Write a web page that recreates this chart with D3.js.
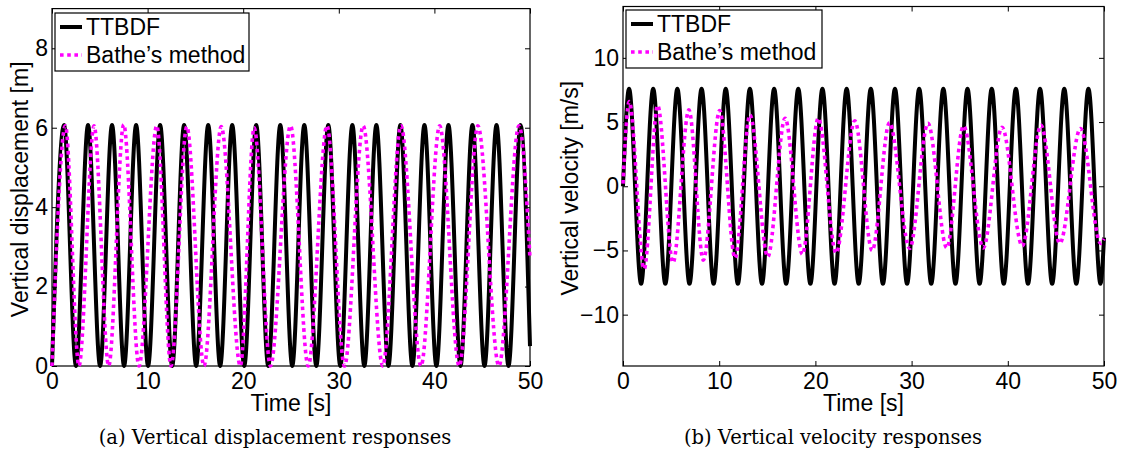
<!DOCTYPE html>
<meta charset="utf-8">
<style>
  body { margin: 0; background: #fff; }
  svg text { font-family: "Liberation Sans", Arial, Helvetica, sans-serif; }
  .caption { font-family: "DejaVu Serif", "Liberation Serif", serif; }
</style>
<body>
<div id="graph"></div>
<script src="https://cdn.jsdelivr.net/npm/d3@7"></script>
<script>
// series names
var seriesNames = ["TTBDF", "Bathe\u2019s method"];

// tick labels
var timeTicks = [0, 10, 20, 30, 40, 50];
var dispTicks = [0, 2, 4, 6, 8];
var velTicks = [-10, -5, 0, 5, 10];

// displacement, TTBDF (time of each turning point, value there)
var dispTtbdfT = [0, 1.26, 2.51, 3.77, 5.03, 6.28, 7.54, 8.80, 10.05, 11.31, 12.57, 13.82, 15.08, 16.34,
  17.59, 18.85, 20.11, 21.36, 22.62, 23.88, 25.13, 26.39, 27.65, 28.90, 30.16, 31.42, 32.67, 33.93,
  35.19, 36.44, 37.70, 38.96, 40.21, 41.47, 42.73, 43.98, 45.24, 46.50, 47.75, 49.01, 50];
var dispTtbdfV = [0, 6.07, 0, 6.07, 0, 6.07, 0, 6.07, 0, 6.07, 0, 6.07, 0, 6.07,
  0, 6.07, 0, 6.07, 0, 6.07, 0, 6.07, 0, 6.07, 0, 6.07, 0, 6.07,
  0, 6.07, 0, 6.07, 0, 6.07, 0, 6.07, 0, 6.07, 0, 6.07, 0.5];

// displacement, Bathe's method
var dispBatheT = [0, 1.40, 2.82, 4.40, 5.93, 7.50, 9.10, 10.96, 12.45, 14.10, 15.90, 17.70, 19.70, 21.15,
  22.85, 24.95, 26.80, 28.76, 30.60, 32.55, 34.60, 36.50, 38.60, 40.55, 42.60, 44.55, 46.75, 48.85, 50];
var dispBatheV = [0, 6.05, 0, 6.05, 0, 6.08, 0, 6.05, 0, 6.03, 0, 6.03, 0, 6.0,
  0, 6.05, 0, 6.05, 0, 6.05, 0, 6.05, 0, 6.05, 0, 6.05, 0, 6.05, 2.7];

// velocity, TTBDF
var velTtbdfT = [0, 0.63, 1.88, 3.14, 4.40, 5.65, 6.91, 8.17, 9.42, 10.68, 11.94, 13.19, 14.45, 15.71,
  16.96, 18.22, 19.48, 20.73, 21.99, 23.25, 24.50, 25.76, 27.02, 28.27, 29.53, 30.79, 32.04, 33.30,
  34.56, 35.81, 37.07, 38.33, 39.58, 40.84, 42.10, 43.35, 44.61, 45.87, 47.12, 48.38, 49.64, 50];
var velTtbdfV = [0, 7.6, -7.6, 7.6, -7.6, 7.6, -7.6, 7.6, -7.6, 7.6, -7.6, 7.6, -7.6, 7.6,
  -7.6, 7.6, -7.6, 7.6, -7.6, 7.6, -7.6, 7.6, -7.6, 7.6, -7.6, 7.6, -7.6, 7.6,
  -7.6, 7.6, -7.6, 7.6, -7.6, 7.6, -7.6, 7.6, -7.6, 7.6, -7.6, 7.6, -7.6, -4.0];

// velocity, Bathe's method
var velBatheT = [0, 0.65, 2.20, 3.60, 5.20, 6.85, 8.35, 10.05, 11.65, 13.20, 15.05, 16.85, 18.65, 20.30,
  22.15, 24.10, 25.90, 27.70, 29.80, 31.70, 33.65, 35.40, 37.45, 39.40, 41.50, 43.45, 45.40, 47.55, 49.65, 50];
var velBatheV = [0.2, 6.6, -6.45, 6.3, -5.95, 5.95, -5.75, 5.9, -5.6, 5.55, -5.5, 5.3, -5.3, 5.3,
  -5.2, 5.1, -5.0, 4.95, -4.85, 4.9, -4.8, 4.7, -4.8, 4.6, -4.65, 4.75, -4.45, 4.5, -4.45, -4.1];

function zip(ts, vs) {
  return ts.map(function(t, i) { return { t: t, v: vs[i] }; });
}

var svg = d3.select("#graph")
  .append("svg")
  .attr("width", 1123)
  .attr("height", 457);

var fontSize = 23;

function drawPanel(p) {
  var x = d3.scaleLinear().domain([0, 50]).range([p.left, p.right]);
  var y = d3.scaleLinear().domain(p.yDomain).range([p.bottom, p.top]);

  var g = svg.append("g");

  // frame
  g.append("rect")
    .attr("x", p.left).attr("y", p.top)
    .attr("width", p.right - p.left).attr("height", p.bottom - p.top)
    .attr("fill", "none").attr("stroke", "#000").attr("stroke-width", 1.2);

  var xAxis = d3.axisBottom(x).tickValues(timeTicks).tickFormat(d3.format("d"))
    .tickSizeInner(-5).tickSizeOuter(0).tickPadding(7);
  var xTop = d3.axisTop(x).tickValues(timeTicks).tickFormat("")
    .tickSizeInner(-5).tickSizeOuter(0);
  var yAxis = d3.axisLeft(y).tickValues(p.yTicks).tickFormat(d3.format("d"))
    .tickSizeInner(-5).tickSizeOuter(0).tickPadding(4);
  var yRight = d3.axisRight(y).tickValues(p.yTicks).tickFormat("")
    .tickSizeInner(-5).tickSizeOuter(0);

  [
    [xAxis, "translate(0," + p.bottom + ")"],
    [xTop, "translate(0," + p.top + ")"],
    [yAxis, "translate(" + p.left + ",0)"],
    [yRight, "translate(" + p.right + ",0)"]
  ].forEach(function(a) {
    var ax = g.append("g").attr("transform", a[1]).call(a[0]);
    ax.select(".domain").remove();
    ax.selectAll("line").attr("stroke", "#000").attr("stroke-width", 1);
    ax.selectAll("text").attr("fill", "#000")
      .style("font-size", fontSize + "px")
      .style("font-family", "'Liberation Sans', Arial, sans-serif");
  });

  var line = d3.line()
    .x(function(d) { return x(d.t); })
    .y(function(d) { return y(d.v); })
    .curve(d3.curveMonotoneX);

  g.append("path")
    .datum(p.black)
    .attr("d", line)
    .attr("fill", "none")
    .attr("stroke", "#000")
    .attr("stroke-width", 4)
    .attr("stroke-linejoin", "round");

  g.append("path")
    .datum(p.magenta)
    .attr("d", line)
    .attr("fill", "none")
    .attr("stroke", "#ff00ff")
    .attr("stroke-width", 3.6)
    .attr("stroke-dasharray", "3.6,3.6");

  // axis labels
  g.append("text")
    .attr("x", (p.left + p.right) / 2)
    .attr("y", p.bottom + 45)
    .attr("text-anchor", "middle")
    .style("font-size", fontSize + "px")
    .text("Time [s]");

  g.append("text")
    .attr("transform", "translate(" + p.yLabelX + "," + ((p.top + p.bottom) / 2 + 2) + ") rotate(-90)")
    .attr("text-anchor", "middle")
    .style("font-size", fontSize + "px")
    .text(p.yLabel);

  // legend
  var lg = g.append("g").attr("transform", "translate(" + p.legendX + "," + p.legendY + ")");
  lg.append("rect")
    .attr("width", p.legendW).attr("height", 58)
    .attr("fill", "#fff").attr("stroke", "#000").attr("stroke-width", 1.2);
  lg.append("line")
    .attr("x1", 5).attr("x2", 27).attr("y1", 14).attr("y2", 14)
    .attr("stroke", "#000").attr("stroke-width", 4);
  lg.append("line")
    .attr("x1", 5).attr("x2", 27).attr("y1", 42).attr("y2", 42)
    .attr("stroke", "#ff00ff").attr("stroke-width", 3.6)
    .attr("stroke-dasharray", "3.6,3.6");
  lg.append("text").attr("x", 31).attr("y", 22)
    .style("font-size", fontSize + "px").text(seriesNames[0]);
  lg.append("text").attr("x", 31).attr("y", 50)
    .style("font-size", fontSize + "px").text(seriesNames[1]);

  // caption
  svg.append("text")
    .attr("class", "caption")
    .attr("x", p.captionX)
    .attr("y", 444)
    .attr("text-anchor", "middle")
    .style("font-size", "19.5px")
    .text(p.caption);
}

drawPanel({
  left: 52, right: 530, top: 8.6, bottom: 366,
  yDomain: [0, 9], yTicks: dispTicks,
  yLabel: "Vertical displacement [m]", yLabelX: 28,
  black: zip(dispTtbdfT, dispTtbdfV),
  magenta: zip(dispBatheT, dispBatheV),
  legendX: 55, legendY: 13, legendW: 194,
  caption: "(a) Vertical displacement responses", captionX: 275
});

drawPanel({
  left: 623, right: 1104, top: 6.5, bottom: 366,
  yDomain: [-14, 14], yTicks: velTicks,
  yLabel: "Vertical velocity [m/s]", yLabelX: 578,
  black: zip(velTtbdfT, velTtbdfV),
  magenta: zip(velBatheT, velBatheV),
  legendX: 626, legendY: 10, legendW: 196,
  caption: "(b) Vertical velocity responses", captionX: 833
});
</script>
</body>
